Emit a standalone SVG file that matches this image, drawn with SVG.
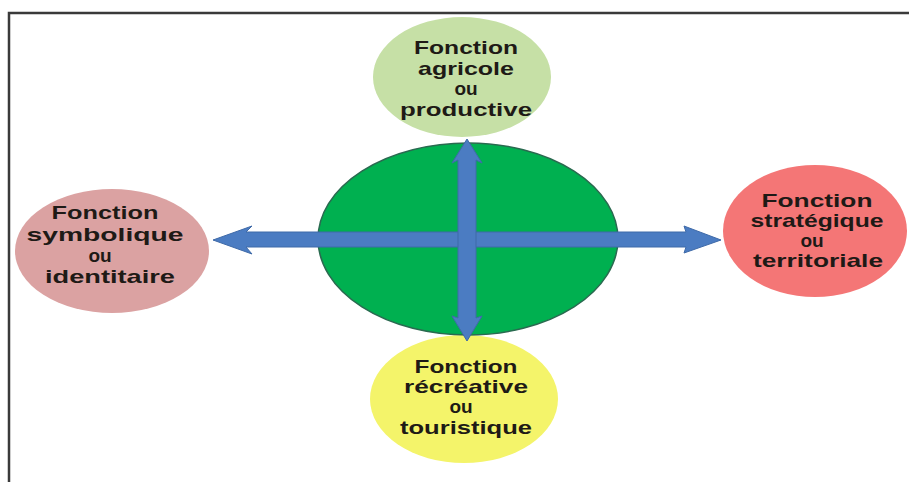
<svg xmlns="http://www.w3.org/2000/svg" width="909" height="482" viewBox="0 0 909 482">
<style>
.lbl{font-family:"Liberation Sans",Arial,sans-serif;font-weight:bold;font-size:19px;fill:#1e1a16;text-anchor:middle}
.arrow{fill:#4b7cc2;stroke:#3f6aa8;stroke-width:1}
.frame{fill:none;stroke:#3a3a3a;stroke-width:2.5}
</style>
<rect width="909" height="482" fill="#ffffff"/>
<path class="frame" d="M9,482 V13 H909"/>
<g id="node-top">
<ellipse cx="462" cy="77" rx="89" ry="60" fill="#c6e0a6"/>
<text class="lbl" x="466" y="54" textLength="104" lengthAdjust="spacingAndGlyphs">Fonction</text>
<text class="lbl" x="466" y="75" textLength="96" lengthAdjust="spacingAndGlyphs">agricole</text>
<text class="lbl" x="466" y="95">ou</text>
<text class="lbl" x="466" y="116" textLength="132" lengthAdjust="spacingAndGlyphs">productive</text>
</g>
<g id="node-left">
<ellipse cx="112" cy="251" rx="97" ry="62" fill="#dba2a2"/>
<text class="lbl" x="105" y="219" textLength="107" lengthAdjust="spacingAndGlyphs">Fonction</text>
<text class="lbl" x="105" y="241" textLength="157" lengthAdjust="spacingAndGlyphs">symbolique</text>
<text class="lbl" x="100" y="262">ou</text>
<text class="lbl" x="110" y="283" textLength="130" lengthAdjust="spacingAndGlyphs">identitaire</text>
</g>
<g id="node-right">
<ellipse cx="815" cy="231" rx="92" ry="66" fill="#f47676"/>
<text class="lbl" x="817" y="207" textLength="111" lengthAdjust="spacingAndGlyphs">Fonction</text>
<text class="lbl" x="817" y="227" textLength="133" lengthAdjust="spacingAndGlyphs">stratégique</text>
<text class="lbl" x="812" y="247">ou</text>
<text class="lbl" x="818" y="267" textLength="130" lengthAdjust="spacingAndGlyphs">territoriale</text>
</g>
<g id="node-bottom">
<ellipse cx="464" cy="399" rx="94" ry="64" fill="#f4f46a"/>
<text class="lbl" x="466" y="373" textLength="103" lengthAdjust="spacingAndGlyphs">Fonction</text>
<text class="lbl" x="466" y="393" textLength="124" lengthAdjust="spacingAndGlyphs">récréative</text>
<text class="lbl" x="461" y="413">ou</text>
<text class="lbl" x="466" y="434" textLength="132" lengthAdjust="spacingAndGlyphs">touristique</text>
</g>
<g id="node-center">
<ellipse cx="468" cy="239" rx="150" ry="96" fill="#00b050" stroke="#2a6a50" stroke-width="1.5"/>
</g>
<g id="connectors">
<path class="arrow" d="M213,240 L252,226 L246,232 L686,232 L684,226 L721,240 L684,253 L686,247 L246,247 L252,254 Z"/>
<path class="arrow" d="M467,139 L482,163 L476,160 L476,318 L482,316 L467,341 L452,316 L458,318 L458,160 L452,163 Z"/>
</g>
</svg>
